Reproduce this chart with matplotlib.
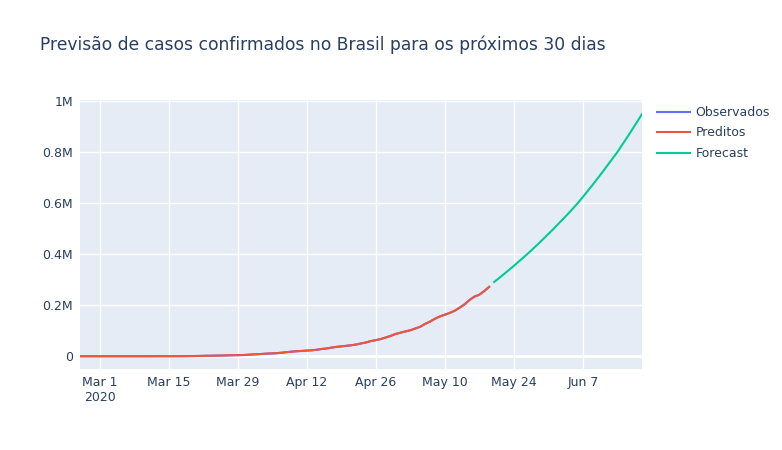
import matplotlib
matplotlib.use("Agg")
import matplotlib.pyplot as plt
import pandas as pd

# dados observados (casos confirmados acumulados), 26/02 a 19/05
obs_inicio = "2020-02-26"
observados = [1, 1, 1, 2, 2, 2, 2, 4, 4, 13, 13, 20, 25, 31, 38, 52, 151, 151, 162, 200,
              321, 372, 621, 793, 1021, 1546, 1924, 2247, 2554, 2985, 3417, 3904, 4256, 4579,
              5717, 6836, 8044, 9056, 10360, 11130, 12161, 14034, 16170, 18092, 19638, 20727,
              22192, 23430, 25262, 28320, 30425, 33682, 36658, 38654, 40743, 43079, 45757,
              50036, 54043, 59324, 63100, 67446, 73235, 79685, 87187, 92202, 97100, 101826,
              108620, 115455, 126611, 135773, 146894, 156061, 162699, 169594, 178214, 190137,
              203165, 220291, 233511, 241080, 255368, 271885]
preditos = [1, 1, 1, 2, 2, 2, 3, 4, 6, 12, 14, 20, 25, 31, 39, 55, 140, 152, 165, 205,
            318, 380, 610, 800, 1030, 1530, 1930, 2250, 2560, 2990, 3420, 3900, 4260, 4600,
            5700, 6830, 8050, 9060, 10350, 11150, 12170, 14040, 16160, 18100, 19640, 20740,
            22200, 23440, 25270, 28300, 30440, 33690, 36650, 38670, 40760, 43090, 45770,
            50040, 54050, 59330, 63110, 67450, 73240, 79690, 87190, 92210, 97110, 101830,
            108630, 115460, 126600, 135780, 146890, 156070, 162700, 169600, 178220, 190140,
            203170, 220280, 233500, 241090, 255370, 271880]

# previsão para os próximos 30 dias, 20/05 a 19/06
prev_inicio = "2020-05-20"
forecast = [291000, 306000, 322000, 338000, 354000, 371000, 388000, 405000, 423000, 441000,
            460000, 479000, 498000, 518000, 538000, 558000, 579000, 601000, 624000, 648000,
            672000, 697000, 722000, 748000, 774000, 800000, 829000, 858000, 888000, 918000,
            949000]

xticks = ["2020-03-01", "2020-03-15", "2020-03-29", "2020-04-12", "2020-04-26",
          "2020-05-10", "2020-05-24", "2020-06-07"]
xlabels = ["Mar 1\n2020", "Mar 15", "Mar 29", "Apr 12", "Apr 26", "May 10", "May 24", "Jun 7"]
yticks = [0, 200000, 400000, 600000, 800000, 1000000]
ylabels = ["0", "0.2M", "0.4M", "0.6M", "0.8M", "1M"]

FG = "#2a3f5f"; BG = "#E5ECF6"
plt.rcParams["font.family"] = ["DejaVu Sans"]

d_obs = pd.date_range(obs_inicio, periods=len(observados), freq="D")
d_prev = pd.date_range(prev_inicio, periods=len(forecast), freq="D")

fig = plt.figure(figsize=(7.82, 4.5), dpi=100)
ax = fig.add_axes([80/782, 1-369/450, (642-80)/782, (369-100)/450])
ax.set_facecolor(BG)
for s in ax.spines.values(): s.set_visible(False)

ax.plot(d_obs, observados, color="#636efa", lw=1.5, label="Observados", zorder=3)
ax.plot(d_obs, preditos, color="#EF553B", lw=1.5, label="Preditos", zorder=4)
ax.plot(d_prev, forecast, color="#00cc96", lw=1.5, label="Forecast", zorder=4)

ax.set_xlim(d_obs[0], d_prev[-1])
ax.set_ylim(-50000, 1004000)
ax.set_xticks(pd.to_datetime(xticks)); ax.set_xticklabels(xlabels)
ax.set_yticks(yticks); ax.set_yticklabels(ylabels)
ax.tick_params(axis="both", length=0, colors=FG, labelsize=9)
ax.tick_params(axis="x", pad=5); ax.tick_params(axis="y", pad=5)
ax.grid(True, color="white", lw=1, zorder=0); ax.set_axisbelow(True)
ax.axhline(0, color="white", lw=2, zorder=1)

fig.text(40/782, 1-45/450, "Previsão de casos confirmados no Brasil para os próximos 30 dias",
         fontsize=12.3, color=FG, va="center", ha="left")

leg = fig.legend(loc="upper left", bbox_to_anchor=(657/782, 1-106/450), frameon=False,
                 fontsize=9, handlelength=2.6, handletextpad=0.5, labelspacing=0.6,
                 borderaxespad=0, borderpad=0)
for t in leg.get_texts(): t.set_color(FG)

fig.savefig("out.png", dpi=100, facecolor="white")
